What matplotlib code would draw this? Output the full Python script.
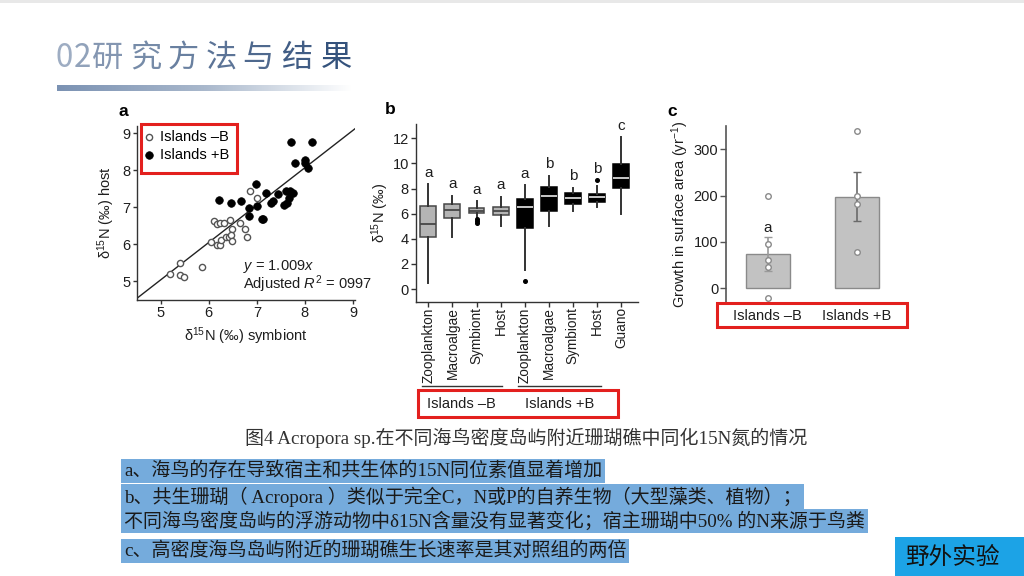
import numpy as np
import matplotlib
matplotlib.use('Agg')
import matplotlib.pyplot as plt
from matplotlib.patches import Rectangle
from matplotlib.lines import Line2D
from matplotlib.colors import LinearSegmentedColormap, to_rgb

plt.rcParams['font.family'] = ['Liberation Sans', 'DejaVu Sans']
plt.rcParams['mathtext.fontset'] = 'custom'
plt.rcParams['mathtext.rm'] = 'Liberation Sans'
plt.rcParams['mathtext.it'] = 'Liberation Sans:italic'
plt.rcParams['mathtext.bf'] = 'Liberation Sans:bold'

# ---------------- data ----------------
# panel a : delta15N symbiont (x) vs host (y)
sym_minus = [5.20, 5.41, 5.41, 5.48, 5.86, 6.04, 6.11, 6.18, 6.24, 6.31, 6.17, 6.24,
             6.26, 6.35, 6.41, 6.45, 6.48, 6.46, 6.49, 6.64, 6.76, 6.79, 6.86, 7.00]
host_minus = [5.20, 5.49, 5.17, 5.11, 5.40, 6.06, 6.62, 6.55, 6.57, 6.57, 5.98, 5.98,
              6.12, 6.19, 6.19, 6.66, 6.43, 6.25, 6.08, 6.57, 6.43, 6.21, 7.44, 7.25]
sym_plus = [7.71, 8.14, 7.79, 8.00, 8.00, 8.07, 6.98, 7.18, 7.44, 7.60, 7.68, 7.75, 7.67,
            7.62, 7.57, 7.29, 7.33, 6.22, 6.46, 6.66, 7.00, 6.84, 6.83, 7.10, 7.13]
host_plus = [8.76, 8.76, 8.19, 8.28, 8.19, 8.07, 7.62, 7.38, 7.35, 7.44, 7.43, 7.40, 7.26,
             7.13, 7.06, 7.11, 7.16, 7.19, 7.13, 7.16, 7.04, 6.99, 6.77, 6.68, 6.68]
fit_slope = 1.009
group_labels = ['Islands –B', 'Islands +B']

# panel b : boxplots of delta15N
box_categories = ['Zooplankton', 'Macroalgae', 'Symbiont', 'Host',
                  'Zooplankton', 'Macroalgae', 'Symbiont', 'Host', 'Guano']
box_dark = [False, False, False, False, True, True, True, True, True]
box_whislo = [0.48, 4.11, 5.77, 5.03, 1.54, 5.03, 6.23, 6.57, 5.96]
box_q1 = [4.11, 5.64, 6.07, 5.91, 4.85, 6.25, 6.78, 6.97, 8.08]
box_med = [5.19, 6.30, 6.25, 6.25, 6.52, 7.42, 7.28, 7.31, 8.87]
box_q3 = [6.62, 6.78, 6.44, 6.52, 7.15, 8.16, 7.68, 7.58, 9.96]
box_whishi = [8.37, 7.44, 6.99, 7.36, 8.29, 9.03, 8.08, 8.24, 12.08]
box_fliers = [[], [], [5.55, 5.42, 5.30], [], [0.66], [], [], [8.69], []]
box_letters = ['a', 'a', 'a', 'a', 'a', 'b', 'b', 'b', 'c']

# panel c : growth in surface area
growth_mean = [74, 198]
growth_err_lo = [38, 145]
growth_err_hi = [111, 252]
growth_points = [[200, 95, 60, 47, -20], [339, 200, 182, 78]]

# ---------------- layout helpers ----------------
W, H = 1024, 576
fig = plt.figure(figsize=(W / 100, H / 100), dpi=100)
fig.patch.set_facecolor('white')


def fx(px):
    return px / W


def fy(py):
    return 1 - py / H


def rect(l, t, r, b):
    return [l / W, 1 - b / H, (r - l) / W, (b - t) / H]


RED = '#e3201e'
TXT = '#1e1e1e'
FS = 10.5

# top thin strip
fig.patches.append(Rectangle((0, fy(3)), 1, 3 / H, transform=fig.transFigure,
                             fc='#e8e8e8', ec='none'))

# ---------------- title ----------------
title_chars = list('02研究方法与结果')
title_x = [64, 82, 107.5, 145.8, 183.3, 220.8, 257.5, 296.7, 336.7]
c0 = np.array(to_rgb('#9eadc3'))
c1 = np.array(to_rgb('#34527c'))
for i, (ch, xx) in enumerate(zip(title_chars, title_x)):
    t = i / (len(title_chars) - 1)
    fig.text(fx(xx), fy(58), ch, ha='center', va='center', fontsize=22.5,
             family=['Noto Sans CJK SC'], fontweight='light', color=tuple(c0 * (1 - t) + c1 * t))

gax = fig.add_axes(rect(57, 85, 352, 91.5))
cmap = LinearSegmentedColormap.from_list('g', ['#7b92b3', '#a9b8cc', '#ffffff'])
gax.imshow(np.linspace(0, 1, 256)[None, :], aspect='auto', cmap=cmap)
gax.axis('off')

# ---------------- panel a ----------------
axa = fig.add_axes(rect(136.7, 125.9, 355.4, 300))
axa.set_xlim(4.5, 9.05)
axa.set_ylim(4.5, 9.2)
xl = np.array(axa.get_xlim())
axa.plot(xl, fit_slope * xl, color='#222222', lw=1.0, zorder=1)
axa.scatter(sym_minus, host_minus, s=20, facecolor='white', edgecolor='#555555',
            linewidth=1.0, zorder=3, label=group_labels[0])
axa.scatter(sym_plus, host_plus, s=30, facecolor='black', edgecolor='black',
            linewidth=0.5, zorder=3, label=group_labels[1])
axa.set_xticks([5, 6, 7, 8, 9])
axa.set_yticks([5, 6, 7, 8, 9])
for s in ['top', 'right']:
    axa.spines[s].set_visible(False)
for s in ['left', 'bottom']:
    axa.spines[s].set_color('#333333')
    axa.spines[s].set_linewidth(1.0)
axa.tick_params(length=3, width=1, color='#333333', labelsize=FS, labelcolor=TXT, pad=1.5)
axa.set_xlabel(r'δ$^{\mathregular{15}}$N (‰) symbiont', fontsize=FS, color=TXT, labelpad=4)
axa.set_ylabel(r'δ$^{\mathregular{15}}$N (‰) host', fontsize=FS, color=TXT, labelpad=4)
axa.text(0.486, 0.195, r'$y$ = 1.009$x$', transform=axa.transAxes, fontsize=FS, color=TXT,
         ha='left', va='center')
axa.text(0.486, 0.088, r'Adjusted $R^{\mathregular{2}}$ = 0997', transform=axa.transAxes,
         fontsize=FS, color=TXT, ha='left', va='center')
axa.legend(loc='upper left', bbox_to_anchor=(fx(145), fy(130)), bbox_transform=fig.transFigure,
           frameon=False, fontsize=FS, handlelength=0.6, handletextpad=0.45,
           borderaxespad=0, borderpad=0, labelspacing=0.25, markerscale=1.0)
fig.patches.append(Rectangle((fx(140.7), fy(173.3)), (236.7 - 140.7) / W, (173.3 - 124.3) / H,
                             transform=fig.transFigure, fill=False, ec=RED, lw=2.2))
fig.text(fx(123), fy(111), 'a', fontsize=12.5, fontweight='bold', ha='center', va='center', color='black')

# ---------------- panel b ----------------
axb = fig.add_axes(rect(415.8, 124.5, 638, 301.7))
stats = []
for i in range(len(box_categories)):
    stats.append(dict(med=box_med[i], q1=box_q1[i], q3=box_q3[i], whislo=box_whislo[i],
                      whishi=box_whishi[i], fliers=box_fliers[i]))
pos = np.arange(1, len(box_categories) + 1)
bp = axb.bxp(stats, positions=pos, widths=0.66, patch_artist=True, showcaps=False,
             whiskerprops=dict(color='#333333', lw=1.4),
             flierprops=dict(marker='o', markerfacecolor='black', markeredgecolor='black', markersize=2.6))
for i, dark in enumerate(box_dark):
    b = bp['boxes'][i]
    if dark:
        b.set_facecolor('black')
        b.set_edgecolor('black')
        bp['medians'][i].set_color('#d8d8d8')
    else:
        b.set_facecolor('#b4b4b4')
        b.set_edgecolor('#474747')
        bp['medians'][i].set_color('#474747')
    b.set_linewidth(1.1)
    bp['medians'][i].set_linewidth(1.3)
for i in range(len(box_categories)):
    top = max([box_whishi[i]] + box_fliers[i])
    axb.text(pos[i], top + 0.9, box_letters[i], ha='center', va='center', fontsize=FS + 0.5,
             color=TXT, clip_on=False)
axb.set_xlim(0.48, 9.7)
axb.set_ylim(-1, 13.1)
axb.set_yticks([0, 2, 4, 6, 8, 10, 12])
axb.set_xticks(pos)
axb.set_xticklabels(box_categories, rotation=90, ha='center', va='top')
for s in ['top', 'right']:
    axb.spines[s].set_visible(False)
for s in ['left', 'bottom']:
    axb.spines[s].set_color('#333333')
    axb.spines[s].set_linewidth(1.0)
axb.tick_params(length=3.5, width=1, color='#333333', labelsize=FS, labelcolor=TXT, pad=1.5)
axb.tick_params(axis='x', labelsize=9.8, pad=0.5)
axb.set_ylabel(r'δ$^{\mathregular{15}}$N (‰)', fontsize=FS, color=TXT, labelpad=1)
fig.add_artist(Line2D([fx(421.7), fx(501.7)], [fy(386), fy(386)], color='#333333', lw=1.0))
fig.add_artist(Line2D([fx(518.3), fx(600.7)], [fy(386), fy(386)], color='#333333', lw=1.0))
fig.text(fx(461), fy(403.5), group_labels[0], ha='center', va='center', fontsize=FS, color=TXT)
fig.text(fx(560), fy(403.5), group_labels[1], ha='center', va='center', fontsize=FS, color=TXT)
fig.patches.append(Rectangle((fx(418.3), fy(416.7)), (618.3 - 418.3) / W, (416.7 - 390) / H,
                             transform=fig.transFigure, fill=False, ec=RED, lw=2.2))
fig.text(fx(390), fy(110), 'b', fontsize=12.5, fontweight='bold', ha='center', va='center', color='black')

# ---------------- panel c ----------------
axc = fig.add_axes(rect(726, 126.1, 898.7, 302.2))
xc = np.arange(len(growth_mean))
axc.bar(xc, growth_mean, width=0.5, color='#c2c2c2', edgecolor='#8a8a8a', lw=1.0, zorder=1)
err_cols = ['#9a9a9a', '#6a6a6a']
for i in range(len(growth_mean)):
    axc.errorbar(xc[i], growth_mean[i],
                 yerr=[[growth_mean[i] - growth_err_lo[i]], [growth_err_hi[i] - growth_mean[i]]],
                 fmt='none', ecolor=err_cols[i], elinewidth=1.2, capsize=2.8, capthick=1.0, zorder=2)
    axc.plot([xc[i]] * len(growth_points[i]), growth_points[i], 'o', ms=4, mfc='white',
             mec='#8a8a8a', mew=1.0, zorder=3, clip_on=False)
axc.text(xc[0], growth_err_hi[0] + 19, 'a', ha='center', va='center', fontsize=FS + 0.5, color=TXT)
axc.set_xlim(-0.47, 1.47)
axc.set_ylim(-30, 350)
axc.set_yticks([0, 100, 200, 300])
axc.set_xticks(xc)
axc.set_xticklabels(group_labels)
for s in ['top', 'right', 'bottom']:
    axc.spines[s].set_visible(False)
axc.spines['left'].set_color('#555555')
axc.spines['left'].set_linewidth(1.2)
axc.tick_params(axis='y', length=4, width=1, color='#555555', labelsize=FS, labelcolor=TXT, pad=1.5)
axc.tick_params(axis='x', length=0, labelsize=FS, labelcolor=TXT, pad=5)
axc.set_ylabel(r'Growth in surface area (yr$^{\mathregular{-1}}$)', fontsize=FS, color=TXT, labelpad=2)
fig.patches.append(Rectangle((fx(717.3), fy(326.7)), (906.7 - 717.3) / W, (326.7 - 303.3) / H,
                             transform=fig.transFigure, fill=False, ec=RED, lw=2.2))
fig.text(fx(672), fy(111), 'c', fontsize=12.5, fontweight='bold', ha='center', va='center', color='black')

# ---------------- caption and notes ----------------
SERIF_CJK = ['Liberation Serif', 'Noto Sans CJK SC']
fig.text(fx(526), fy(438), '图4 Acropora sp.在不同海鸟密度岛屿附近珊瑚礁中同化15N氮的情况',
         ha='center', va='center', fontsize=13.7, color='#333333', family=SERIF_CJK)

HL = '#75abdc'
notes = [
    ('a、海鸟的存在导致宿主和共生体的15N同位素值显着增加', 471),
    ('b、共生珊瑚（ Acropora ）类似于完全C，N或P的自养生物（大型藻类、植物）；', 497),
    ('不同海鸟密度岛屿的浮游动物中δ15N含量没有显著变化；宿主珊瑚中50% 的N来源于鸟粪', 521),
    ('c、高密度海鸟岛屿附近的珊瑚礁生长速率是其对照组的两倍', 551),
]
for txt, yy in notes:
    fig.text(fx(124), fy(yy), txt, ha='left', va='center', fontsize=13.7, color='#1a1a1a',
             family=SERIF_CJK, bbox=dict(boxstyle='square,pad=0.14', fc=HL, ec='none'))

fig.patches.append(Rectangle((fx(895), 0), (W - 895) / W, (576 - 537) / H,
                             transform=fig.transFigure, fc='#1ca3e6', ec='none'))
fig.text(fx(952), fy(557), '野外实验', ha='center', va='center', fontsize=17, color='#111111',
         family=['Noto Sans CJK SC'])

fig.savefig('out.png', dpi=100)
